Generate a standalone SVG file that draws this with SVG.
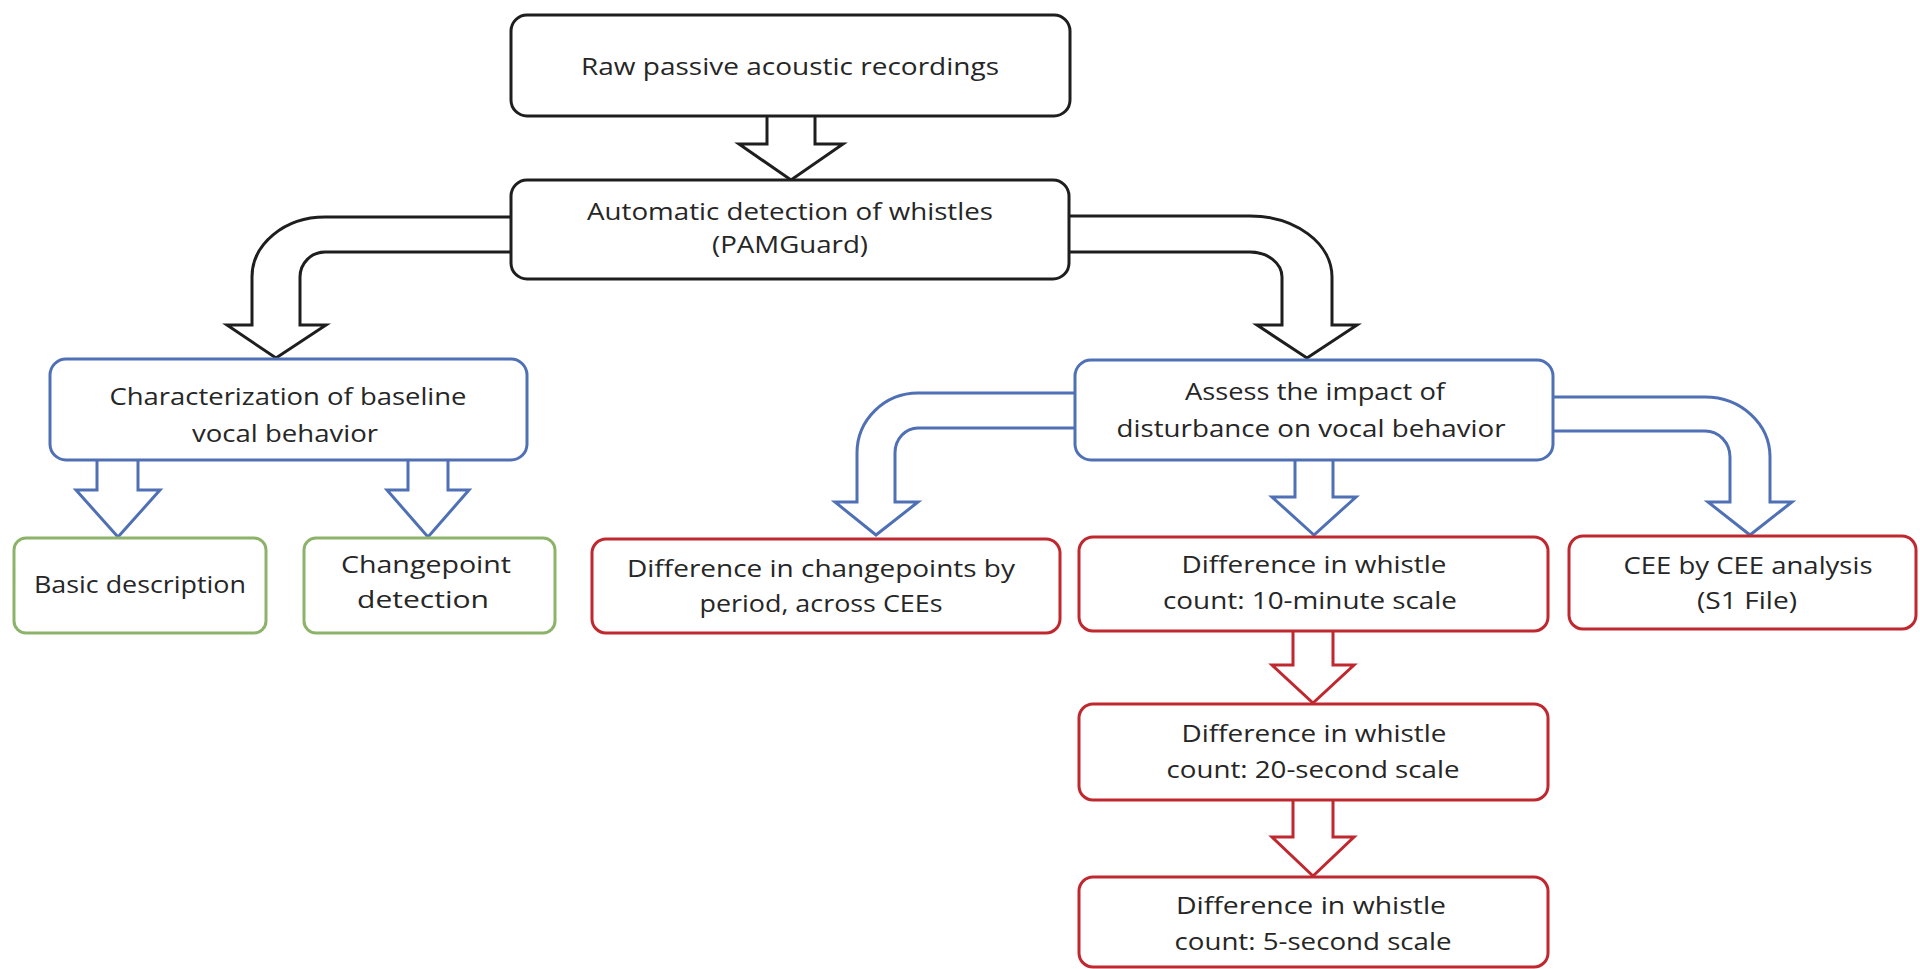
<svg xmlns="http://www.w3.org/2000/svg" width="1920" height="969" viewBox="0 0 1920 969">
<style>
.box{fill:#fff;stroke-width:3}
.k{stroke:#1e1e1e}
.b{stroke:#4f70b5}
.r{stroke:#c0282f}
.g{stroke:#8db36a}
.arr{fill:#fff;stroke-width:3;stroke-linejoin:miter}
text{font-family:"Open Sans","Noto Sans","Liberation Sans",sans-serif;font-size:24px;fill:#262626;text-anchor:middle}
</style>
<rect width="1920" height="969" fill="#fff"/>
<g id="connectors">
<path class="arr k" d="M767,116 V144 H739 L791,180 L843,144 H815 V116"/>
<path class="arr k" d="M512,217 H325 A73 60 0 0 0 252,277 V325 H227 L276,358 L326,325 H300 V277 A25 25 0 0 1 325,252 H512"/>
<path class="arr k" d="M1068,216 H1250 A82 61 0 0 1 1332,277 V325 H1357 L1307,358 L1257,325 H1282 V277 A32 25 0 0 0 1250,252 H1068"/>
<path class="arr b" d="M1075,393 H918 A61 60 0 0 0 857,453 V502 H835 L876,535 L918,502 H895 V453 A23 25 0 0 1 918,428 H1075"/>
<path class="arr b" d="M1553,397 H1705 A65 60 0 0 1 1770,457 V502 H1792 L1750,535 L1708,502 H1730 V457 A25 26 0 0 0 1705,431 H1553"/>
<path class="arr b" d="M1295,460 V497 H1272 L1314,535 L1356,497 H1333 V460"/>
<path class="arr b" d="M97,460 V490 H76 L118,537 L160,490 H138 V460"/>
<path class="arr b" d="M408,460 V490 H387 L428,537 L469,490 H448 V460"/>
<path class="arr r" d="M1293,632 V665 H1272 L1313,703 L1354,665 H1333 V632"/>
<path class="arr r" d="M1293,800 V837 H1272 L1313,876 L1354,837 H1333 V800"/>
</g>
<g id="n1"><rect class="box k" x="511" y="15" width="559" height="101" rx="16"/>
<text x="790" y="75" textLength="418" lengthAdjust="spacingAndGlyphs">Raw passive acoustic recordings</text></g>
<g id="n2"><rect class="box k" x="511" y="180" width="558" height="99" rx="16"/>
<text x="790" y="220" textLength="406" lengthAdjust="spacingAndGlyphs">Automatic detection of whistles</text>
<text x="790" y="253" textLength="156" lengthAdjust="spacingAndGlyphs">(PAMGuard)</text></g>
<g id="n3"><rect class="box b" x="50" y="359" width="477" height="101" rx="16"/>
<text x="288" y="405" textLength="357" lengthAdjust="spacingAndGlyphs">Characterization of baseline</text>
<text x="285" y="442" textLength="186" lengthAdjust="spacingAndGlyphs">vocal behavior</text></g>
<g id="n4"><rect class="box g" x="14" y="538" width="252" height="95" rx="12"/>
<text x="140" y="593" textLength="212" lengthAdjust="spacingAndGlyphs">Basic description</text></g>
<g id="n5"><rect class="box g" x="304" y="538" width="251" height="95" rx="12"/>
<text x="426" y="573" textLength="170" lengthAdjust="spacingAndGlyphs">Changepoint</text>
<text x="423" y="608" textLength="132" lengthAdjust="spacingAndGlyphs">detection</text></g>
<g id="n6"><rect class="box b" x="1075" y="360" width="478" height="100" rx="16"/>
<text x="1315" y="400" textLength="260" lengthAdjust="spacingAndGlyphs">Assess the impact of</text>
<text x="1311" y="437" textLength="389" lengthAdjust="spacingAndGlyphs">disturbance on vocal behavior</text></g>
<g id="n7"><rect class="box r" x="592" y="539" width="468" height="94" rx="14"/>
<text x="821" y="577" textLength="388" lengthAdjust="spacingAndGlyphs">Difference in changepoints by</text>
<text x="821" y="612" textLength="243" lengthAdjust="spacingAndGlyphs">period, across CEEs</text></g>
<g id="n8"><rect class="box r" x="1079" y="537" width="469" height="94" rx="14"/>
<text x="1314" y="573" textLength="265" lengthAdjust="spacingAndGlyphs">Difference in whistle</text>
<text x="1310" y="609" textLength="294" lengthAdjust="spacingAndGlyphs">count: 10-minute scale</text></g>
<g id="n9"><rect class="box r" x="1569" y="536" width="347" height="93" rx="14"/>
<text x="1748" y="574" textLength="249" lengthAdjust="spacingAndGlyphs">CEE by CEE analysis</text>
<text x="1747" y="609" textLength="100" lengthAdjust="spacingAndGlyphs">(S1 File)</text></g>
<g id="n10"><rect class="box r" x="1079" y="704" width="469" height="96" rx="14"/>
<text x="1314" y="742" textLength="265" lengthAdjust="spacingAndGlyphs">Difference in whistle</text>
<text x="1313" y="778" textLength="293" lengthAdjust="spacingAndGlyphs">count: 20-second scale</text></g>
<g id="n11"><rect class="box r" x="1079" y="877" width="469" height="90" rx="14"/>
<text x="1311" y="914" textLength="270" lengthAdjust="spacingAndGlyphs">Difference in whistle</text>
<text x="1313" y="950" textLength="277" lengthAdjust="spacingAndGlyphs">count: 5-second scale</text></g>
</svg>
